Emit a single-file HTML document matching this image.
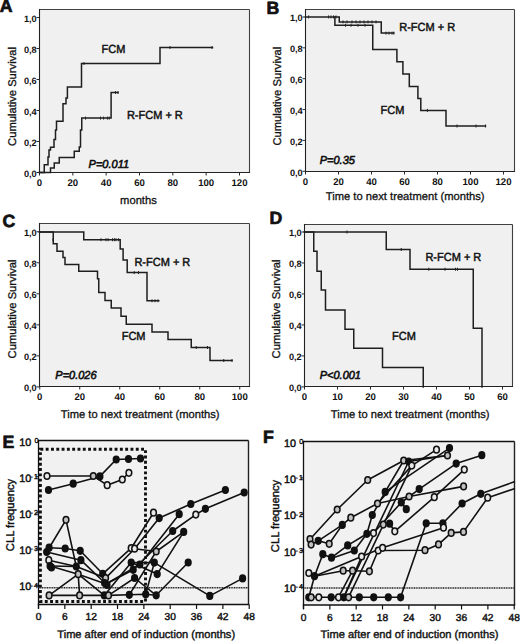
<!DOCTYPE html><html><head><meta charset="utf-8"><style>html,body{margin:0;padding:0;background:#fff;}body{width:520px;height:641px;overflow:hidden;}svg{display:block;}text{font-family:"Liberation Sans", sans-serif;fill:#111;text-rendering:geometricPrecision;}</style></head><body>
<svg width="520" height="641" viewBox="0 0 520 641">
<rect x="39.5" y="9.5" width="210.0" height="163.0" fill="#f0f0f0"/>
<line x1="39.50" y1="9.50" x2="249.50" y2="9.50" stroke="#404040" stroke-width="1.1" />
<line x1="249.50" y1="9.50" x2="249.50" y2="172.50" stroke="#404040" stroke-width="1.1" />
<line x1="39.50" y1="8.95" x2="39.50" y2="173.05" stroke="#222" stroke-width="1.1" />
<line x1="38.95" y1="172.50" x2="250.05" y2="172.50" stroke="#222" stroke-width="1.1" />
<line x1="36.50" y1="172.50" x2="39.50" y2="172.50" stroke="#2a2a2a" stroke-width="1.0" />
<text x="36.70" y="176.90" font-size="9.2" font-weight="bold" font-style="normal" text-anchor="end" >0,0</text>
<line x1="36.50" y1="141.50" x2="39.50" y2="141.50" stroke="#2a2a2a" stroke-width="1.0" />
<text x="36.70" y="145.90" font-size="9.2" font-weight="bold" font-style="normal" text-anchor="end" >0,2</text>
<line x1="36.50" y1="110.50" x2="39.50" y2="110.50" stroke="#2a2a2a" stroke-width="1.0" />
<text x="36.70" y="114.90" font-size="9.2" font-weight="bold" font-style="normal" text-anchor="end" >0,4</text>
<line x1="36.50" y1="79.50" x2="39.50" y2="79.50" stroke="#2a2a2a" stroke-width="1.0" />
<text x="36.70" y="83.90" font-size="9.2" font-weight="bold" font-style="normal" text-anchor="end" >0,6</text>
<line x1="36.50" y1="48.50" x2="39.50" y2="48.50" stroke="#2a2a2a" stroke-width="1.0" />
<text x="36.70" y="52.90" font-size="9.2" font-weight="bold" font-style="normal" text-anchor="end" >0,8</text>
<line x1="36.50" y1="17.50" x2="39.50" y2="17.50" stroke="#2a2a2a" stroke-width="1.0" />
<text x="36.70" y="21.90" font-size="9.2" font-weight="bold" font-style="normal" text-anchor="end" >1,0</text>
<line x1="39.50" y1="172.50" x2="39.50" y2="175.50" stroke="#2a2a2a" stroke-width="1.0" />
<text x="39.50" y="186.10" font-size="9.6" font-weight="bold" font-style="normal" text-anchor="middle" >0</text>
<line x1="72.83" y1="172.50" x2="72.83" y2="175.50" stroke="#2a2a2a" stroke-width="1.0" />
<text x="72.83" y="186.10" font-size="9.6" font-weight="bold" font-style="normal" text-anchor="middle" >20</text>
<line x1="106.17" y1="172.50" x2="106.17" y2="175.50" stroke="#2a2a2a" stroke-width="1.0" />
<text x="106.17" y="186.10" font-size="9.6" font-weight="bold" font-style="normal" text-anchor="middle" >40</text>
<line x1="139.50" y1="172.50" x2="139.50" y2="175.50" stroke="#2a2a2a" stroke-width="1.0" />
<text x="139.50" y="186.10" font-size="9.6" font-weight="bold" font-style="normal" text-anchor="middle" >60</text>
<line x1="172.84" y1="172.50" x2="172.84" y2="175.50" stroke="#2a2a2a" stroke-width="1.0" />
<text x="172.84" y="186.10" font-size="9.6" font-weight="bold" font-style="normal" text-anchor="middle" >80</text>
<line x1="206.17" y1="172.50" x2="206.17" y2="175.50" stroke="#2a2a2a" stroke-width="1.0" />
<text x="206.17" y="186.10" font-size="9.6" font-weight="bold" font-style="normal" text-anchor="middle" >100</text>
<line x1="239.50" y1="172.50" x2="239.50" y2="175.50" stroke="#2a2a2a" stroke-width="1.0" />
<text x="239.50" y="186.10" font-size="9.6" font-weight="bold" font-style="normal" text-anchor="middle" >120</text>
<text x="-0.30" y="12.40" font-size="17.7" font-weight="bold" font-style="normal" text-anchor="start" stroke="#111" stroke-width="0.7" >A</text>
<text x="120.10" y="203.60" font-size="11.2" font-weight="normal" font-style="normal" text-anchor="start" stroke="#111" stroke-width="0.3" >months</text>
<text x="0" y="0" font-size="11.2" text-anchor="middle" stroke="#111" stroke-width="0.3" transform="translate(15.8,96.5) rotate(-90)">Cumulative Survival</text>
<path d="M39.50,172.50 L44.25,172.50 L44.25,164.75 L48.00,164.75 L48.00,157.00 L49.00,157.00 L49.00,150.00 L50.50,150.00 L50.50,147.25 L54.00,147.25 L54.00,139.50 L55.50,139.50 L55.50,130.00 L56.50,130.00 L56.50,121.25 L63.00,121.25 L63.00,103.75 L66.00,103.75 L66.00,98.00 L67.40,98.00 L67.40,86.90 L81.50,86.90 L81.50,63.50 L160.00,63.50 L160.00,47.50 L212.50,47.50" fill="none" stroke="#1e1e1e" stroke-width="1.5" stroke-linejoin="miter" stroke-linecap="square"/>
<line x1="84.00" y1="62.00" x2="84.00" y2="65.00" stroke="#222" stroke-width="1.0" />
<line x1="170.00" y1="46.00" x2="170.00" y2="49.00" stroke="#222" stroke-width="1.0" />
<line x1="212.00" y1="46.00" x2="212.00" y2="49.00" stroke="#222" stroke-width="1.0" />
<path d="M39.50,172.50 L50.50,172.50 L50.50,168.10 L54.25,168.10 L54.25,163.10 L59.25,163.10 L59.25,157.50 L74.25,157.50 L74.25,151.25 L79.25,151.25 L79.25,147.00 L80.50,147.00 L80.50,130.00 L81.75,130.00 L81.75,118.10 L111.10,118.10 L111.10,92.50 L118.00,92.50" fill="none" stroke="#1e1e1e" stroke-width="1.5" stroke-linejoin="miter" stroke-linecap="square"/>
<line x1="85.50" y1="116.60" x2="85.50" y2="119.60" stroke="#222" stroke-width="1.0" />
<line x1="100.50" y1="116.60" x2="100.50" y2="119.60" stroke="#222" stroke-width="1.0" />
<line x1="103.60" y1="116.60" x2="103.60" y2="119.60" stroke="#222" stroke-width="1.0" />
<line x1="107.40" y1="116.60" x2="107.40" y2="119.60" stroke="#222" stroke-width="1.0" />
<line x1="109.25" y1="116.60" x2="109.25" y2="119.60" stroke="#222" stroke-width="1.0" />
<line x1="115.50" y1="91.00" x2="115.50" y2="94.00" stroke="#222" stroke-width="1.0" />
<line x1="118.00" y1="91.00" x2="118.00" y2="94.00" stroke="#222" stroke-width="1.0" />
<text transform="translate(101.60,52.80) scale(1,1.07)" font-size="11" font-weight="normal" font-style="normal" text-anchor="start" stroke="#111" stroke-width="0.45" >FCM</text>
<text transform="translate(126.90,119.10) scale(1,1.07)" font-size="11" font-weight="normal" font-style="normal" text-anchor="start" stroke="#111" stroke-width="0.45" >R-FCM + R</text>
<text transform="translate(88.60,168.20) scale(1,1.05)" font-size="11" font-weight="normal" font-style="italic" text-anchor="start" stroke="#111" stroke-width="0.6" >P=0.011</text>
<rect x="305.5" y="9.5" width="209.0" height="162.0" fill="#f0f0f0"/>
<line x1="305.50" y1="9.50" x2="514.50" y2="9.50" stroke="#404040" stroke-width="1.1" />
<line x1="514.50" y1="9.50" x2="514.50" y2="171.50" stroke="#404040" stroke-width="1.1" />
<line x1="305.50" y1="8.95" x2="305.50" y2="172.05" stroke="#222" stroke-width="1.1" />
<line x1="304.95" y1="171.50" x2="515.05" y2="171.50" stroke="#222" stroke-width="1.1" />
<line x1="302.50" y1="171.25" x2="305.50" y2="171.25" stroke="#2a2a2a" stroke-width="1.0" />
<text x="302.70" y="175.65" font-size="9.2" font-weight="bold" font-style="normal" text-anchor="end" >0,0</text>
<line x1="302.50" y1="140.40" x2="305.50" y2="140.40" stroke="#2a2a2a" stroke-width="1.0" />
<text x="302.70" y="144.80" font-size="9.2" font-weight="bold" font-style="normal" text-anchor="end" >0,2</text>
<line x1="302.50" y1="109.55" x2="305.50" y2="109.55" stroke="#2a2a2a" stroke-width="1.0" />
<text x="302.70" y="113.95" font-size="9.2" font-weight="bold" font-style="normal" text-anchor="end" >0,4</text>
<line x1="302.50" y1="78.70" x2="305.50" y2="78.70" stroke="#2a2a2a" stroke-width="1.0" />
<text x="302.70" y="83.10" font-size="9.2" font-weight="bold" font-style="normal" text-anchor="end" >0,6</text>
<line x1="302.50" y1="47.85" x2="305.50" y2="47.85" stroke="#2a2a2a" stroke-width="1.0" />
<text x="302.70" y="52.25" font-size="9.2" font-weight="bold" font-style="normal" text-anchor="end" >0,8</text>
<line x1="302.50" y1="17.00" x2="305.50" y2="17.00" stroke="#2a2a2a" stroke-width="1.0" />
<text x="302.70" y="21.40" font-size="9.2" font-weight="bold" font-style="normal" text-anchor="end" >1,0</text>
<line x1="305.50" y1="171.50" x2="305.50" y2="174.50" stroke="#2a2a2a" stroke-width="1.0" />
<text x="305.50" y="185.10" font-size="9.6" font-weight="bold" font-style="normal" text-anchor="middle" >0</text>
<line x1="338.50" y1="171.50" x2="338.50" y2="174.50" stroke="#2a2a2a" stroke-width="1.0" />
<text x="338.50" y="185.10" font-size="9.6" font-weight="bold" font-style="normal" text-anchor="middle" >20</text>
<line x1="371.50" y1="171.50" x2="371.50" y2="174.50" stroke="#2a2a2a" stroke-width="1.0" />
<text x="371.50" y="185.10" font-size="9.6" font-weight="bold" font-style="normal" text-anchor="middle" >40</text>
<line x1="404.50" y1="171.50" x2="404.50" y2="174.50" stroke="#2a2a2a" stroke-width="1.0" />
<text x="404.50" y="185.10" font-size="9.6" font-weight="bold" font-style="normal" text-anchor="middle" >60</text>
<line x1="437.50" y1="171.50" x2="437.50" y2="174.50" stroke="#2a2a2a" stroke-width="1.0" />
<text x="437.50" y="185.10" font-size="9.6" font-weight="bold" font-style="normal" text-anchor="middle" >80</text>
<line x1="470.50" y1="171.50" x2="470.50" y2="174.50" stroke="#2a2a2a" stroke-width="1.0" />
<text x="470.50" y="185.10" font-size="9.6" font-weight="bold" font-style="normal" text-anchor="middle" >100</text>
<line x1="503.50" y1="171.50" x2="503.50" y2="174.50" stroke="#2a2a2a" stroke-width="1.0" />
<text x="503.50" y="185.10" font-size="9.6" font-weight="bold" font-style="normal" text-anchor="middle" >120</text>
<text x="266.50" y="14.10" font-size="17.7" font-weight="bold" font-style="normal" text-anchor="start" stroke="#111" stroke-width="0.7" >B</text>
<text x="325.80" y="200.40" font-size="11.2" font-weight="normal" font-style="normal" text-anchor="start" stroke="#111" stroke-width="0.3" >Time to next treatment (months)</text>
<text x="0" y="0" font-size="11.2" text-anchor="middle" stroke="#111" stroke-width="0.3" transform="translate(281.3,96.2) rotate(-90)">Cumulative Survival</text>
<path d="M305.50,16.90 L339.25,16.90 L339.25,21.90 L381.25,21.90 L381.25,33.10 L393.75,33.10" fill="none" stroke="#1e1e1e" stroke-width="1.5" stroke-linejoin="miter" stroke-linecap="square"/>
<path d="M334.90,16.90 L334.90,25.25 L372.75,25.25 L372.75,49.60 L396.90,49.60 L396.90,61.80 L402.90,61.80 L402.90,73.90 L409.30,73.90 L409.30,86.40 L417.90,86.40 L417.90,98.40 L420.80,98.40 L420.80,110.40 L446.00,110.40 L446.00,126.00 L485.50,126.00" fill="none" stroke="#1e1e1e" stroke-width="1.5" stroke-linejoin="miter" stroke-linecap="square"/>
<line x1="308.60" y1="15.40" x2="308.60" y2="18.40" stroke="#222" stroke-width="1.0" />
<line x1="328.60" y1="15.40" x2="328.60" y2="18.40" stroke="#222" stroke-width="1.0" />
<line x1="331.00" y1="15.40" x2="331.00" y2="18.40" stroke="#222" stroke-width="1.0" />
<line x1="333.50" y1="15.40" x2="333.50" y2="18.40" stroke="#222" stroke-width="1.0" />
<line x1="336.00" y1="15.40" x2="336.00" y2="18.40" stroke="#222" stroke-width="1.0" />
<line x1="345.50" y1="23.75" x2="345.50" y2="26.75" stroke="#222" stroke-width="1.0" />
<line x1="351.00" y1="23.75" x2="351.00" y2="26.75" stroke="#222" stroke-width="1.0" />
<line x1="358.00" y1="23.75" x2="358.00" y2="26.75" stroke="#222" stroke-width="1.0" />
<line x1="365.00" y1="23.75" x2="365.00" y2="26.75" stroke="#222" stroke-width="1.0" />
<line x1="343.00" y1="20.40" x2="343.00" y2="23.40" stroke="#222" stroke-width="1.0" />
<line x1="347.00" y1="20.40" x2="347.00" y2="23.40" stroke="#222" stroke-width="1.0" />
<line x1="352.00" y1="20.40" x2="352.00" y2="23.40" stroke="#222" stroke-width="1.0" />
<line x1="356.00" y1="20.40" x2="356.00" y2="23.40" stroke="#222" stroke-width="1.0" />
<line x1="360.00" y1="20.40" x2="360.00" y2="23.40" stroke="#222" stroke-width="1.0" />
<line x1="364.00" y1="20.40" x2="364.00" y2="23.40" stroke="#222" stroke-width="1.0" />
<line x1="368.00" y1="20.40" x2="368.00" y2="23.40" stroke="#222" stroke-width="1.0" />
<line x1="372.00" y1="20.40" x2="372.00" y2="23.40" stroke="#222" stroke-width="1.0" />
<line x1="376.00" y1="20.40" x2="376.00" y2="23.40" stroke="#222" stroke-width="1.0" />
<line x1="386.00" y1="31.60" x2="386.00" y2="34.60" stroke="#222" stroke-width="1.0" />
<line x1="389.00" y1="31.60" x2="389.00" y2="34.60" stroke="#222" stroke-width="1.0" />
<line x1="392.00" y1="31.60" x2="392.00" y2="34.60" stroke="#222" stroke-width="1.0" />
<line x1="393.75" y1="31.60" x2="393.75" y2="34.60" stroke="#222" stroke-width="1.0" />
<line x1="427.40" y1="108.90" x2="427.40" y2="111.90" stroke="#222" stroke-width="1.0" />
<line x1="457.00" y1="124.50" x2="457.00" y2="127.50" stroke="#222" stroke-width="1.0" />
<line x1="476.00" y1="124.50" x2="476.00" y2="127.50" stroke="#222" stroke-width="1.0" />
<line x1="485.50" y1="124.50" x2="485.50" y2="127.50" stroke="#222" stroke-width="1.0" />
<text transform="translate(399.20,30.90) scale(1,1.07)" font-size="11" font-weight="normal" font-style="normal" text-anchor="start" stroke="#111" stroke-width="0.45" >R-FCM + R</text>
<text transform="translate(380.60,113.70) scale(1,1.07)" font-size="11" font-weight="normal" font-style="normal" text-anchor="start" stroke="#111" stroke-width="0.45" >FCM</text>
<text transform="translate(319.70,164.10) scale(1,1.05)" font-size="11" font-weight="normal" font-style="italic" text-anchor="start" stroke="#111" stroke-width="0.6" >P=0.35</text>
<rect x="39.5" y="223.5" width="210.0" height="163.0" fill="#f0f0f0"/>
<line x1="39.50" y1="223.50" x2="249.50" y2="223.50" stroke="#404040" stroke-width="1.1" />
<line x1="249.50" y1="223.50" x2="249.50" y2="386.50" stroke="#404040" stroke-width="1.1" />
<line x1="39.50" y1="222.95" x2="39.50" y2="387.05" stroke="#222" stroke-width="1.1" />
<line x1="38.95" y1="386.50" x2="250.05" y2="386.50" stroke="#222" stroke-width="1.1" />
<line x1="36.50" y1="386.90" x2="39.50" y2="386.90" stroke="#2a2a2a" stroke-width="1.0" />
<text x="36.70" y="391.30" font-size="9.2" font-weight="bold" font-style="normal" text-anchor="end" >0,0</text>
<line x1="36.50" y1="355.87" x2="39.50" y2="355.87" stroke="#2a2a2a" stroke-width="1.0" />
<text x="36.70" y="360.27" font-size="9.2" font-weight="bold" font-style="normal" text-anchor="end" >0,2</text>
<line x1="36.50" y1="324.84" x2="39.50" y2="324.84" stroke="#2a2a2a" stroke-width="1.0" />
<text x="36.70" y="329.24" font-size="9.2" font-weight="bold" font-style="normal" text-anchor="end" >0,4</text>
<line x1="36.50" y1="293.81" x2="39.50" y2="293.81" stroke="#2a2a2a" stroke-width="1.0" />
<text x="36.70" y="298.21" font-size="9.2" font-weight="bold" font-style="normal" text-anchor="end" >0,6</text>
<line x1="36.50" y1="262.78" x2="39.50" y2="262.78" stroke="#2a2a2a" stroke-width="1.0" />
<text x="36.70" y="267.18" font-size="9.2" font-weight="bold" font-style="normal" text-anchor="end" >0,8</text>
<line x1="36.50" y1="231.75" x2="39.50" y2="231.75" stroke="#2a2a2a" stroke-width="1.0" />
<text x="36.70" y="236.15" font-size="9.2" font-weight="bold" font-style="normal" text-anchor="end" >1,0</text>
<line x1="39.75" y1="386.50" x2="39.75" y2="389.50" stroke="#2a2a2a" stroke-width="1.0" />
<text x="39.75" y="400.10" font-size="9.6" font-weight="bold" font-style="normal" text-anchor="middle" >0</text>
<line x1="79.75" y1="386.50" x2="79.75" y2="389.50" stroke="#2a2a2a" stroke-width="1.0" />
<text x="79.75" y="400.10" font-size="9.6" font-weight="bold" font-style="normal" text-anchor="middle" >20</text>
<line x1="119.75" y1="386.50" x2="119.75" y2="389.50" stroke="#2a2a2a" stroke-width="1.0" />
<text x="119.75" y="400.10" font-size="9.6" font-weight="bold" font-style="normal" text-anchor="middle" >40</text>
<line x1="159.75" y1="386.50" x2="159.75" y2="389.50" stroke="#2a2a2a" stroke-width="1.0" />
<text x="159.75" y="400.10" font-size="9.6" font-weight="bold" font-style="normal" text-anchor="middle" >60</text>
<line x1="199.75" y1="386.50" x2="199.75" y2="389.50" stroke="#2a2a2a" stroke-width="1.0" />
<text x="199.75" y="400.10" font-size="9.6" font-weight="bold" font-style="normal" text-anchor="middle" >80</text>
<line x1="239.75" y1="386.50" x2="239.75" y2="389.50" stroke="#2a2a2a" stroke-width="1.0" />
<text x="239.75" y="400.10" font-size="9.6" font-weight="bold" font-style="normal" text-anchor="middle" >100</text>
<text x="2.40" y="227.00" font-size="17.7" font-weight="bold" font-style="normal" text-anchor="start" stroke="#111" stroke-width="0.7" >C</text>
<text x="60.80" y="417.80" font-size="11.2" font-weight="normal" font-style="normal" text-anchor="start" stroke="#111" stroke-width="0.3" >Time to next treatment (months)</text>
<text x="0" y="0" font-size="11.2" text-anchor="middle" stroke="#111" stroke-width="0.3" transform="translate(15.8,309) rotate(-90)">Cumulative Survival</text>
<path d="M39.50,232.00 L83.75,232.00 L83.75,239.70 L120.20,239.70 L120.20,249.00 L123.10,249.00 L123.10,260.00 L127.20,260.00 L127.20,272.60 L147.00,272.60 L147.00,300.75 L158.75,300.75" fill="none" stroke="#1e1e1e" stroke-width="1.5" stroke-linejoin="miter" stroke-linecap="square"/>
<line x1="53.00" y1="238.20" x2="53.00" y2="241.20" stroke="#222" stroke-width="1.0" />
<line x1="101.00" y1="238.20" x2="101.00" y2="241.20" stroke="#222" stroke-width="1.0" />
<line x1="106.00" y1="238.20" x2="106.00" y2="241.20" stroke="#222" stroke-width="1.0" />
<line x1="108.10" y1="238.20" x2="108.10" y2="241.20" stroke="#222" stroke-width="1.0" />
<line x1="112.50" y1="238.20" x2="112.50" y2="241.20" stroke="#222" stroke-width="1.0" />
<line x1="114.40" y1="238.20" x2="114.40" y2="241.20" stroke="#222" stroke-width="1.0" />
<line x1="116.00" y1="238.20" x2="116.00" y2="241.20" stroke="#222" stroke-width="1.0" />
<line x1="118.60" y1="238.20" x2="118.60" y2="241.20" stroke="#222" stroke-width="1.0" />
<line x1="134.20" y1="271.10" x2="134.20" y2="274.10" stroke="#222" stroke-width="1.0" />
<line x1="138.50" y1="271.10" x2="138.50" y2="274.10" stroke="#222" stroke-width="1.0" />
<line x1="152.00" y1="299.25" x2="152.00" y2="302.25" stroke="#222" stroke-width="1.0" />
<line x1="155.00" y1="299.25" x2="155.00" y2="302.25" stroke="#222" stroke-width="1.0" />
<line x1="158.00" y1="299.25" x2="158.00" y2="302.25" stroke="#222" stroke-width="1.0" />
<path d="M39.50,232.00 L53.25,232.00 L53.25,243.75 L57.00,243.75 L57.00,251.25 L63.00,251.25 L63.00,257.50 L65.00,257.50 L65.00,264.50 L78.75,264.50 L78.75,271.25 L97.50,271.25 L97.50,278.75 L98.75,278.75 L98.75,292.50 L105.00,292.50 L105.00,300.50 L111.25,300.50 L111.25,308.00 L121.00,308.00 L121.00,316.25 L126.25,316.25 L126.25,324.25 L152.00,324.25 L152.00,332.00 L168.00,332.00 L168.00,339.50 L191.25,339.50 L191.25,347.50 L210.00,347.50 L210.00,360.50 L232.00,360.50" fill="none" stroke="#1e1e1e" stroke-width="1.5" stroke-linejoin="miter" stroke-linecap="square"/>
<line x1="196.25" y1="346.00" x2="196.25" y2="349.00" stroke="#222" stroke-width="1.0" />
<line x1="207.50" y1="346.00" x2="207.50" y2="349.00" stroke="#222" stroke-width="1.0" />
<line x1="223.75" y1="359.00" x2="223.75" y2="362.00" stroke="#222" stroke-width="1.0" />
<line x1="232.00" y1="359.00" x2="232.00" y2="362.00" stroke="#222" stroke-width="1.0" />
<text transform="translate(134.40,265.80) scale(1,1.07)" font-size="11" font-weight="normal" font-style="normal" text-anchor="start" stroke="#111" stroke-width="0.45" >R-FCM + R</text>
<text transform="translate(121.70,339.80) scale(1,1.07)" font-size="11" font-weight="normal" font-style="normal" text-anchor="start" stroke="#111" stroke-width="0.45" >FCM</text>
<text transform="translate(55.30,378.50) scale(1,1.05)" font-size="11" font-weight="normal" font-style="italic" text-anchor="start" stroke="#111" stroke-width="0.6" >P=0.026</text>
<rect x="304.5" y="224.5" width="208.0" height="162.0" fill="#f0f0f0"/>
<line x1="304.50" y1="224.50" x2="512.50" y2="224.50" stroke="#404040" stroke-width="1.1" />
<line x1="512.50" y1="224.50" x2="512.50" y2="386.50" stroke="#404040" stroke-width="1.1" />
<line x1="304.50" y1="223.95" x2="304.50" y2="387.05" stroke="#222" stroke-width="1.1" />
<line x1="303.95" y1="386.50" x2="513.05" y2="386.50" stroke="#222" stroke-width="1.1" />
<line x1="301.50" y1="386.90" x2="304.50" y2="386.90" stroke="#2a2a2a" stroke-width="1.0" />
<text x="301.70" y="391.30" font-size="9.2" font-weight="bold" font-style="normal" text-anchor="end" >0,0</text>
<line x1="301.50" y1="355.92" x2="304.50" y2="355.92" stroke="#2a2a2a" stroke-width="1.0" />
<text x="301.70" y="360.32" font-size="9.2" font-weight="bold" font-style="normal" text-anchor="end" >0,2</text>
<line x1="301.50" y1="324.94" x2="304.50" y2="324.94" stroke="#2a2a2a" stroke-width="1.0" />
<text x="301.70" y="329.34" font-size="9.2" font-weight="bold" font-style="normal" text-anchor="end" >0,4</text>
<line x1="301.50" y1="293.96" x2="304.50" y2="293.96" stroke="#2a2a2a" stroke-width="1.0" />
<text x="301.70" y="298.36" font-size="9.2" font-weight="bold" font-style="normal" text-anchor="end" >0,6</text>
<line x1="301.50" y1="262.98" x2="304.50" y2="262.98" stroke="#2a2a2a" stroke-width="1.0" />
<text x="301.70" y="267.38" font-size="9.2" font-weight="bold" font-style="normal" text-anchor="end" >0,8</text>
<line x1="301.50" y1="232.00" x2="304.50" y2="232.00" stroke="#2a2a2a" stroke-width="1.0" />
<text x="301.70" y="236.40" font-size="9.2" font-weight="bold" font-style="normal" text-anchor="end" >1,0</text>
<line x1="304.50" y1="386.50" x2="304.50" y2="389.50" stroke="#2a2a2a" stroke-width="1.0" />
<text x="304.50" y="400.10" font-size="9.6" font-weight="bold" font-style="normal" text-anchor="middle" >0</text>
<line x1="337.50" y1="386.50" x2="337.50" y2="389.50" stroke="#2a2a2a" stroke-width="1.0" />
<text x="337.50" y="400.10" font-size="9.6" font-weight="bold" font-style="normal" text-anchor="middle" >10</text>
<line x1="370.50" y1="386.50" x2="370.50" y2="389.50" stroke="#2a2a2a" stroke-width="1.0" />
<text x="370.50" y="400.10" font-size="9.6" font-weight="bold" font-style="normal" text-anchor="middle" >20</text>
<line x1="403.50" y1="386.50" x2="403.50" y2="389.50" stroke="#2a2a2a" stroke-width="1.0" />
<text x="403.50" y="400.10" font-size="9.6" font-weight="bold" font-style="normal" text-anchor="middle" >30</text>
<line x1="436.50" y1="386.50" x2="436.50" y2="389.50" stroke="#2a2a2a" stroke-width="1.0" />
<text x="436.50" y="400.10" font-size="9.6" font-weight="bold" font-style="normal" text-anchor="middle" >40</text>
<line x1="469.50" y1="386.50" x2="469.50" y2="389.50" stroke="#2a2a2a" stroke-width="1.0" />
<text x="469.50" y="400.10" font-size="9.6" font-weight="bold" font-style="normal" text-anchor="middle" >50</text>
<line x1="502.50" y1="386.50" x2="502.50" y2="389.50" stroke="#2a2a2a" stroke-width="1.0" />
<text x="502.50" y="400.10" font-size="9.6" font-weight="bold" font-style="normal" text-anchor="middle" >60</text>
<text x="269.50" y="224.20" font-size="17.7" font-weight="bold" font-style="normal" text-anchor="start" stroke="#111" stroke-width="0.7" >D</text>
<text x="330.80" y="417.80" font-size="11.2" font-weight="normal" font-style="normal" text-anchor="start" stroke="#111" stroke-width="0.3" >Time to next treatment (months)</text>
<text x="0" y="0" font-size="11.2" text-anchor="middle" stroke="#111" stroke-width="0.3" transform="translate(280.3,309) rotate(-90)">Cumulative Survival</text>
<path d="M304.50,232.00 L386.25,232.00 L386.25,249.50 L410.00,249.50 L410.00,269.25 L473.25,269.25 L473.25,328.25 L482.00,328.25 L482.00,386.90" fill="none" stroke="#1e1e1e" stroke-width="1.5" stroke-linejoin="miter" stroke-linecap="square"/>
<line x1="347.00" y1="230.50" x2="347.00" y2="233.50" stroke="#222" stroke-width="1.0" />
<line x1="401.25" y1="248.00" x2="401.25" y2="251.00" stroke="#222" stroke-width="1.0" />
<line x1="428.75" y1="267.75" x2="428.75" y2="270.75" stroke="#222" stroke-width="1.0" />
<line x1="445.00" y1="267.75" x2="445.00" y2="270.75" stroke="#222" stroke-width="1.0" />
<line x1="455.50" y1="267.75" x2="455.50" y2="270.75" stroke="#222" stroke-width="1.0" />
<line x1="457.50" y1="267.75" x2="457.50" y2="270.75" stroke="#222" stroke-width="1.0" />
<path d="M304.50,232.00 L313.75,232.00 L313.75,251.25 L317.00,251.25 L317.00,271.25 L321.25,271.25 L321.25,290.00 L325.50,290.00 L325.50,310.00 L345.00,310.00 L345.00,329.25 L353.75,329.25 L353.75,348.25 L382.50,348.25 L382.50,367.50 L423.25,367.50 L423.25,386.90" fill="none" stroke="#1e1e1e" stroke-width="1.5" stroke-linejoin="miter" stroke-linecap="square"/>
<text transform="translate(425.40,260.50) scale(1,1.07)" font-size="11" font-weight="normal" font-style="normal" text-anchor="start" stroke="#111" stroke-width="0.45" >R-FCM + R</text>
<text transform="translate(392.10,339.60) scale(1,1.07)" font-size="11" font-weight="normal" font-style="normal" text-anchor="start" stroke="#111" stroke-width="0.45" >FCM</text>
<text transform="translate(319.70,379.30) scale(1,1.05)" font-size="11" font-weight="normal" font-style="italic" text-anchor="start" stroke="#111" stroke-width="0.6" >P&lt;0.001</text>
<rect x="38.5" y="440.5" width="210.0" height="164.0" fill="#f1f1f1"/>
<line x1="38.50" y1="440.50" x2="248.50" y2="440.50" stroke="#111" stroke-width="1.4" />
<line x1="248.50" y1="440.50" x2="248.50" y2="604.50" stroke="#222" stroke-width="1.4" />
<line x1="38.50" y1="439.80" x2="38.50" y2="608.50" stroke="#111" stroke-width="1.3" />
<line x1="37.80" y1="604.50" x2="249.20" y2="604.50" stroke="#111" stroke-width="1.5" />
<line x1="38.50" y1="587.70" x2="248.50" y2="587.70" stroke="#222" stroke-width="1.5" stroke-dasharray="1.1,0.6"/>
<text x="19.20" y="446.30" font-size="10.8" font-weight="normal" font-style="normal" text-anchor="start" stroke="#111" stroke-width="0.45" >10</text>
<text x="34.40" y="442.90" font-size="7.2" font-weight="normal" font-style="normal" text-anchor="start" stroke="#111" stroke-width="0.35" >0</text>
<line x1="35.50" y1="476.70" x2="38.50" y2="476.70" stroke="#111" stroke-width="1.0" />
<text x="19.20" y="481.80" font-size="10.8" font-weight="normal" font-style="normal" text-anchor="start" stroke="#111" stroke-width="0.45" >10</text>
<text x="30.50" y="478.90" font-size="7.2" font-weight="normal" font-style="normal" text-anchor="start" stroke="#111" stroke-width="0.35" >-</text>
<text x="34.10" y="478.90" font-size="7.2" font-weight="normal" font-style="normal" text-anchor="start" stroke="#111" stroke-width="0.35" >1</text>
<line x1="35.50" y1="512.90" x2="38.50" y2="512.90" stroke="#111" stroke-width="1.0" />
<text x="19.20" y="518.00" font-size="10.8" font-weight="normal" font-style="normal" text-anchor="start" stroke="#111" stroke-width="0.45" >10</text>
<text x="30.50" y="515.10" font-size="7.2" font-weight="normal" font-style="normal" text-anchor="start" stroke="#111" stroke-width="0.35" >-</text>
<text x="34.10" y="515.10" font-size="7.2" font-weight="normal" font-style="normal" text-anchor="start" stroke="#111" stroke-width="0.35" >2</text>
<line x1="35.50" y1="549.10" x2="38.50" y2="549.10" stroke="#111" stroke-width="1.0" />
<text x="19.20" y="554.20" font-size="10.8" font-weight="normal" font-style="normal" text-anchor="start" stroke="#111" stroke-width="0.45" >10</text>
<text x="30.50" y="551.30" font-size="7.2" font-weight="normal" font-style="normal" text-anchor="start" stroke="#111" stroke-width="0.35" >-</text>
<text x="34.10" y="551.30" font-size="7.2" font-weight="normal" font-style="normal" text-anchor="start" stroke="#111" stroke-width="0.35" >3</text>
<line x1="35.50" y1="585.30" x2="38.50" y2="585.30" stroke="#111" stroke-width="1.0" />
<text x="19.20" y="590.40" font-size="10.8" font-weight="normal" font-style="normal" text-anchor="start" stroke="#111" stroke-width="0.45" >10</text>
<text x="30.50" y="587.50" font-size="7.2" font-weight="normal" font-style="normal" text-anchor="start" stroke="#111" stroke-width="0.35" >-</text>
<text x="34.10" y="587.50" font-size="7.2" font-weight="normal" font-style="normal" text-anchor="start" stroke="#111" stroke-width="0.35" >4</text>
<line x1="38.50" y1="604.50" x2="38.50" y2="609.00" stroke="#111" stroke-width="1.2" />
<text x="38.50" y="620.30" font-size="10.2" font-weight="normal" font-style="normal" text-anchor="middle" stroke="#111" stroke-width="0.45" >0</text>
<line x1="64.84" y1="604.50" x2="64.84" y2="609.00" stroke="#111" stroke-width="1.2" />
<text x="64.84" y="620.30" font-size="10.2" font-weight="normal" font-style="normal" text-anchor="middle" stroke="#111" stroke-width="0.45" >6</text>
<line x1="91.18" y1="604.50" x2="91.18" y2="609.00" stroke="#111" stroke-width="1.2" />
<text x="91.18" y="620.30" font-size="10.2" font-weight="normal" font-style="normal" text-anchor="middle" stroke="#111" stroke-width="0.45" >12</text>
<line x1="117.52" y1="604.50" x2="117.52" y2="609.00" stroke="#111" stroke-width="1.2" />
<text x="117.52" y="620.30" font-size="10.2" font-weight="normal" font-style="normal" text-anchor="middle" stroke="#111" stroke-width="0.45" >18</text>
<line x1="143.86" y1="604.50" x2="143.86" y2="609.00" stroke="#111" stroke-width="1.2" />
<text x="143.86" y="620.30" font-size="10.2" font-weight="normal" font-style="normal" text-anchor="middle" stroke="#111" stroke-width="0.45" >24</text>
<line x1="170.20" y1="604.50" x2="170.20" y2="609.00" stroke="#111" stroke-width="1.2" />
<text x="170.20" y="620.30" font-size="10.2" font-weight="normal" font-style="normal" text-anchor="middle" stroke="#111" stroke-width="0.45" >30</text>
<line x1="196.54" y1="604.50" x2="196.54" y2="609.00" stroke="#111" stroke-width="1.2" />
<text x="196.54" y="620.30" font-size="10.2" font-weight="normal" font-style="normal" text-anchor="middle" stroke="#111" stroke-width="0.45" >36</text>
<line x1="222.88" y1="604.50" x2="222.88" y2="609.00" stroke="#111" stroke-width="1.2" />
<text x="222.88" y="620.30" font-size="10.2" font-weight="normal" font-style="normal" text-anchor="middle" stroke="#111" stroke-width="0.45" >42</text>
<line x1="249.22" y1="604.50" x2="249.22" y2="609.00" stroke="#111" stroke-width="1.2" />
<text x="249.22" y="620.30" font-size="10.2" font-weight="normal" font-style="normal" text-anchor="middle" stroke="#111" stroke-width="0.45" >48</text>
<text x="2.50" y="447.70" font-size="17.7" font-weight="bold" font-style="normal" text-anchor="start" stroke="#111" stroke-width="0.7" >E</text>
<text x="57.30" y="637.60" font-size="11.1" font-weight="normal" font-style="normal" text-anchor="start" stroke="#111" stroke-width="0.4" >Time after end of induction (months)</text>
<text x="0" y="0" font-size="11.2" text-anchor="middle" stroke="#111" stroke-width="0.4" transform="translate(13.7,515.0) rotate(-90)">CLL frequency</text>
<rect x="40.4" y="449.3" width="105.1" height="152.2" fill="none" stroke="#111" stroke-width="2.9" stroke-dasharray="2.9,2.4"/>
<path d="M47.0,476.0 L93.3,476.0 L107.2,485.2 L122.3,479.5 L128.9,472.8" fill="none" stroke="#111" stroke-width="1.6" stroke-linejoin="round"/>
<path d="M48.5,490.0 L73.2,483.7 L99.9,476.4 L116.2,459.5 L128.5,459.0 L140.5,458.5" fill="none" stroke="#111" stroke-width="1.6" stroke-linejoin="round"/>
<path d="M46.7,552.0 L66.0,519.8 L76.3,566.5" fill="none" stroke="#111" stroke-width="1.6" stroke-linejoin="round"/>
<path d="M49.1,547.7 L65.2,548.5 L80.2,550.8 L102.7,573.8 L131.2,548.2 L153.5,512.7" fill="none" stroke="#111" stroke-width="1.6" stroke-linejoin="round"/>
<path d="M46.7,552.0 L80.9,560.2 L106.0,584.0 L133.2,569.8 L172.7,531.0 L195.8,514.6 L205.4,508.8 L244.2,492.5" fill="none" stroke="#111" stroke-width="1.6" stroke-linejoin="round"/>
<path d="M48.8,560.2 L76.3,566.5 L105.6,578.1 L134.6,548.7 L159.2,518.1 L190.8,504.0 L225.4,490.0" fill="none" stroke="#111" stroke-width="1.6" stroke-linejoin="round"/>
<path d="M50.1,566.0 L78.2,574.2 L79.6,595.4" fill="none" stroke="#111" stroke-width="1.6" stroke-linejoin="round"/>
<path d="M50.1,566.0 L76.3,566.5" fill="none" stroke="#111" stroke-width="1.6" stroke-linejoin="round"/>
<path d="M49.1,595.4 L79.6,595.4 L108.5,595.4 L129.3,594.8 L145.7,594.3 L156.2,595.3" fill="none" stroke="#111" stroke-width="1.6" stroke-linejoin="round"/>
<path d="M49.1,595.4 L78.2,574.2 L104.3,595.4" fill="none" stroke="#111" stroke-width="1.6" stroke-linejoin="round"/>
<path d="M78.2,574.2 L106.0,584.0" fill="none" stroke="#111" stroke-width="1.6" stroke-linejoin="round"/>
<path d="M104.3,595.4 L131.2,562.6 L157.2,574.1 L183.7,531.9" fill="none" stroke="#111" stroke-width="1.6" stroke-linejoin="round"/>
<path d="M108.5,595.4 L134.6,578.0 L156.2,595.3 L188.2,562.5" fill="none" stroke="#111" stroke-width="1.6" stroke-linejoin="round"/>
<path d="M106.0,584.0 L139.9,564.5 L179.2,514.2" fill="none" stroke="#111" stroke-width="1.6" stroke-linejoin="round"/>
<path d="M129.3,594.8 L156.2,551.5" fill="none" stroke="#111" stroke-width="1.6" stroke-linejoin="round"/>
<path d="M145.7,594.3 L154.3,562.6 L209.8,595.9 L242.6,578.4" fill="none" stroke="#111" stroke-width="1.6" stroke-linejoin="round"/>
<path d="M102.7,573.8 L106.0,584.0" fill="none" stroke="#111" stroke-width="1.6" stroke-linejoin="round"/>
<path d="M131.2,562.6 L154.3,562.6" fill="none" stroke="#111" stroke-width="1.6" stroke-linejoin="round"/>
<path d="M134.6,548.7 L156.2,551.5 L183.7,531.9" fill="none" stroke="#111" stroke-width="1.6" stroke-linejoin="round"/>
<ellipse cx="47.0" cy="476.0" rx="2.85" ry="3.35" fill="#e9e9e9" stroke="#111" stroke-width="1.5"/>
<ellipse cx="93.3" cy="476.0" rx="2.85" ry="3.35" fill="#c2c2c2" stroke="#111" stroke-width="1.5"/>
<ellipse cx="107.2" cy="485.2" rx="2.85" ry="3.35" fill="#e9e9e9" stroke="#111" stroke-width="1.5"/>
<ellipse cx="122.3" cy="479.5" rx="2.85" ry="3.35" fill="#e9e9e9" stroke="#111" stroke-width="1.5"/>
<ellipse cx="128.9" cy="472.8" rx="2.85" ry="3.35" fill="#e9e9e9" stroke="#111" stroke-width="1.5"/>
<ellipse cx="48.5" cy="490.0" rx="2.85" ry="3.35" fill="#111" stroke="#111" stroke-width="1.5"/>
<ellipse cx="73.2" cy="483.7" rx="2.85" ry="3.35" fill="#111" stroke="#111" stroke-width="1.5"/>
<ellipse cx="99.9" cy="476.4" rx="2.85" ry="3.35" fill="#111" stroke="#111" stroke-width="1.5"/>
<ellipse cx="116.2" cy="459.5" rx="2.85" ry="3.35" fill="#111" stroke="#111" stroke-width="1.5"/>
<ellipse cx="128.5" cy="459.0" rx="2.85" ry="3.35" fill="#111" stroke="#111" stroke-width="1.5"/>
<ellipse cx="140.5" cy="458.5" rx="2.85" ry="3.35" fill="#111" stroke="#111" stroke-width="1.5"/>
<ellipse cx="66.0" cy="519.8" rx="2.85" ry="3.35" fill="#c2c2c2" stroke="#111" stroke-width="1.5"/>
<ellipse cx="49.1" cy="547.7" rx="2.85" ry="3.35" fill="#111" stroke="#111" stroke-width="1.5"/>
<ellipse cx="46.7" cy="552.0" rx="2.85" ry="3.35" fill="#111" stroke="#111" stroke-width="1.5"/>
<ellipse cx="65.2" cy="548.5" rx="2.85" ry="3.35" fill="#111" stroke="#111" stroke-width="1.5"/>
<ellipse cx="80.2" cy="550.8" rx="2.85" ry="3.35" fill="#111" stroke="#111" stroke-width="1.5"/>
<ellipse cx="80.9" cy="560.2" rx="2.85" ry="3.35" fill="#111" stroke="#111" stroke-width="1.5"/>
<ellipse cx="48.8" cy="560.2" rx="2.85" ry="3.35" fill="#e9e9e9" stroke="#111" stroke-width="1.5"/>
<ellipse cx="50.1" cy="566.0" rx="2.85" ry="3.35" fill="#111" stroke="#111" stroke-width="1.5"/>
<ellipse cx="51.5" cy="567.5" rx="2.85" ry="3.35" fill="#111" stroke="#111" stroke-width="1.5"/>
<ellipse cx="76.3" cy="566.5" rx="2.85" ry="3.35" fill="#111" stroke="#111" stroke-width="1.5"/>
<ellipse cx="78.2" cy="574.2" rx="2.85" ry="3.35" fill="#c2c2c2" stroke="#111" stroke-width="1.5"/>
<ellipse cx="102.7" cy="573.8" rx="2.85" ry="3.35" fill="#111" stroke="#111" stroke-width="1.5"/>
<ellipse cx="105.6" cy="578.1" rx="2.85" ry="3.35" fill="#c2c2c2" stroke="#111" stroke-width="1.5"/>
<ellipse cx="104.6" cy="583.0" rx="2.85" ry="3.35" fill="#111" stroke="#111" stroke-width="1.5"/>
<ellipse cx="107.0" cy="585.0" rx="2.85" ry="3.35" fill="#111" stroke="#111" stroke-width="1.5"/>
<ellipse cx="49.1" cy="595.4" rx="2.85" ry="3.35" fill="#c2c2c2" stroke="#111" stroke-width="1.5"/>
<ellipse cx="79.6" cy="595.4" rx="2.85" ry="3.35" fill="#c2c2c2" stroke="#111" stroke-width="1.5"/>
<ellipse cx="104.3" cy="595.4" rx="2.85" ry="3.35" fill="#111" stroke="#111" stroke-width="1.5"/>
<ellipse cx="108.5" cy="595.4" rx="2.85" ry="3.35" fill="#c2c2c2" stroke="#111" stroke-width="1.5"/>
<ellipse cx="129.3" cy="594.8" rx="2.85" ry="3.35" fill="#111" stroke="#111" stroke-width="1.5"/>
<ellipse cx="145.7" cy="594.3" rx="2.85" ry="3.35" fill="#111" stroke="#111" stroke-width="1.5"/>
<ellipse cx="156.2" cy="595.3" rx="2.85" ry="3.35" fill="#111" stroke="#111" stroke-width="1.5"/>
<ellipse cx="131.2" cy="548.2" rx="2.85" ry="3.35" fill="#e9e9e9" stroke="#111" stroke-width="1.5"/>
<ellipse cx="134.6" cy="548.7" rx="2.85" ry="3.35" fill="#e9e9e9" stroke="#111" stroke-width="1.5"/>
<ellipse cx="131.2" cy="562.6" rx="2.85" ry="3.35" fill="#111" stroke="#111" stroke-width="1.5"/>
<ellipse cx="139.9" cy="564.5" rx="2.85" ry="3.35" fill="#111" stroke="#111" stroke-width="1.5"/>
<ellipse cx="133.2" cy="569.8" rx="2.85" ry="3.35" fill="#111" stroke="#111" stroke-width="1.5"/>
<ellipse cx="134.6" cy="578.0" rx="2.85" ry="3.35" fill="#111" stroke="#111" stroke-width="1.5"/>
<ellipse cx="156.2" cy="551.5" rx="2.85" ry="3.35" fill="#c2c2c2" stroke="#111" stroke-width="1.5"/>
<ellipse cx="154.3" cy="562.6" rx="2.85" ry="3.35" fill="#111" stroke="#111" stroke-width="1.5"/>
<ellipse cx="157.2" cy="574.1" rx="2.85" ry="3.35" fill="#111" stroke="#111" stroke-width="1.5"/>
<ellipse cx="153.5" cy="512.7" rx="2.85" ry="3.35" fill="#e9e9e9" stroke="#111" stroke-width="1.5"/>
<ellipse cx="159.2" cy="518.1" rx="2.85" ry="3.35" fill="#111" stroke="#111" stroke-width="1.5"/>
<ellipse cx="172.7" cy="531.0" rx="2.85" ry="3.35" fill="#111" stroke="#111" stroke-width="1.5"/>
<ellipse cx="183.7" cy="531.9" rx="2.85" ry="3.35" fill="#111" stroke="#111" stroke-width="1.5"/>
<ellipse cx="179.2" cy="514.2" rx="2.85" ry="3.35" fill="#111" stroke="#111" stroke-width="1.5"/>
<ellipse cx="190.8" cy="504.0" rx="2.85" ry="3.35" fill="#111" stroke="#111" stroke-width="1.5"/>
<ellipse cx="195.8" cy="514.6" rx="2.85" ry="3.35" fill="#e9e9e9" stroke="#111" stroke-width="1.5"/>
<ellipse cx="205.4" cy="508.8" rx="2.85" ry="3.35" fill="#111" stroke="#111" stroke-width="1.5"/>
<ellipse cx="225.4" cy="490.0" rx="2.85" ry="3.35" fill="#111" stroke="#111" stroke-width="1.5"/>
<ellipse cx="244.2" cy="492.5" rx="2.85" ry="3.35" fill="#111" stroke="#111" stroke-width="1.5"/>
<ellipse cx="188.2" cy="562.5" rx="2.85" ry="3.35" fill="#111" stroke="#111" stroke-width="1.5"/>
<ellipse cx="209.8" cy="595.9" rx="2.85" ry="3.35" fill="#111" stroke="#111" stroke-width="1.5"/>
<ellipse cx="242.6" cy="578.4" rx="2.85" ry="3.35" fill="#111" stroke="#111" stroke-width="1.5"/>
<rect x="303.5" y="441.5" width="211.0" height="163.5" fill="#f1f1f1"/>
<line x1="303.50" y1="441.50" x2="514.50" y2="441.50" stroke="#111" stroke-width="1.4" />
<line x1="514.50" y1="441.50" x2="514.50" y2="605.00" stroke="#222" stroke-width="1.4" />
<line x1="303.50" y1="440.80" x2="303.50" y2="609.00" stroke="#111" stroke-width="1.3" />
<line x1="302.80" y1="605.00" x2="515.20" y2="605.00" stroke="#111" stroke-width="1.5" />
<line x1="303.50" y1="588.00" x2="514.50" y2="588.00" stroke="#222" stroke-width="1.5" stroke-dasharray="1.1,0.6"/>
<text x="284.10" y="447.30" font-size="10.8" font-weight="normal" font-style="normal" text-anchor="start" stroke="#111" stroke-width="0.45" >10</text>
<text x="299.30" y="443.90" font-size="7.2" font-weight="normal" font-style="normal" text-anchor="start" stroke="#111" stroke-width="0.35" >0</text>
<line x1="300.50" y1="477.90" x2="303.50" y2="477.90" stroke="#111" stroke-width="1.0" />
<text x="284.10" y="483.00" font-size="10.8" font-weight="normal" font-style="normal" text-anchor="start" stroke="#111" stroke-width="0.45" >10</text>
<text x="295.40" y="480.10" font-size="7.2" font-weight="normal" font-style="normal" text-anchor="start" stroke="#111" stroke-width="0.35" >-</text>
<text x="299.00" y="480.10" font-size="7.2" font-weight="normal" font-style="normal" text-anchor="start" stroke="#111" stroke-width="0.35" >1</text>
<line x1="300.50" y1="514.30" x2="303.50" y2="514.30" stroke="#111" stroke-width="1.0" />
<text x="284.10" y="519.40" font-size="10.8" font-weight="normal" font-style="normal" text-anchor="start" stroke="#111" stroke-width="0.45" >10</text>
<text x="295.40" y="516.50" font-size="7.2" font-weight="normal" font-style="normal" text-anchor="start" stroke="#111" stroke-width="0.35" >-</text>
<text x="299.00" y="516.50" font-size="7.2" font-weight="normal" font-style="normal" text-anchor="start" stroke="#111" stroke-width="0.35" >2</text>
<line x1="300.50" y1="550.70" x2="303.50" y2="550.70" stroke="#111" stroke-width="1.0" />
<text x="284.10" y="555.80" font-size="10.8" font-weight="normal" font-style="normal" text-anchor="start" stroke="#111" stroke-width="0.45" >10</text>
<text x="295.40" y="552.90" font-size="7.2" font-weight="normal" font-style="normal" text-anchor="start" stroke="#111" stroke-width="0.35" >-</text>
<text x="299.00" y="552.90" font-size="7.2" font-weight="normal" font-style="normal" text-anchor="start" stroke="#111" stroke-width="0.35" >3</text>
<line x1="300.50" y1="587.10" x2="303.50" y2="587.10" stroke="#111" stroke-width="1.0" />
<text x="284.10" y="592.20" font-size="10.8" font-weight="normal" font-style="normal" text-anchor="start" stroke="#111" stroke-width="0.45" >10</text>
<text x="295.40" y="589.30" font-size="7.2" font-weight="normal" font-style="normal" text-anchor="start" stroke="#111" stroke-width="0.35" >-</text>
<text x="299.00" y="589.30" font-size="7.2" font-weight="normal" font-style="normal" text-anchor="start" stroke="#111" stroke-width="0.35" >4</text>
<line x1="303.50" y1="605.00" x2="303.50" y2="609.50" stroke="#111" stroke-width="1.2" />
<text x="303.50" y="620.80" font-size="10.2" font-weight="normal" font-style="normal" text-anchor="middle" stroke="#111" stroke-width="0.45" >0</text>
<line x1="329.84" y1="605.00" x2="329.84" y2="609.50" stroke="#111" stroke-width="1.2" />
<text x="329.84" y="620.80" font-size="10.2" font-weight="normal" font-style="normal" text-anchor="middle" stroke="#111" stroke-width="0.45" >6</text>
<line x1="356.18" y1="605.00" x2="356.18" y2="609.50" stroke="#111" stroke-width="1.2" />
<text x="356.18" y="620.80" font-size="10.2" font-weight="normal" font-style="normal" text-anchor="middle" stroke="#111" stroke-width="0.45" >12</text>
<line x1="382.52" y1="605.00" x2="382.52" y2="609.50" stroke="#111" stroke-width="1.2" />
<text x="382.52" y="620.80" font-size="10.2" font-weight="normal" font-style="normal" text-anchor="middle" stroke="#111" stroke-width="0.45" >18</text>
<line x1="408.86" y1="605.00" x2="408.86" y2="609.50" stroke="#111" stroke-width="1.2" />
<text x="408.86" y="620.80" font-size="10.2" font-weight="normal" font-style="normal" text-anchor="middle" stroke="#111" stroke-width="0.45" >24</text>
<line x1="435.20" y1="605.00" x2="435.20" y2="609.50" stroke="#111" stroke-width="1.2" />
<text x="435.20" y="620.80" font-size="10.2" font-weight="normal" font-style="normal" text-anchor="middle" stroke="#111" stroke-width="0.45" >30</text>
<line x1="461.54" y1="605.00" x2="461.54" y2="609.50" stroke="#111" stroke-width="1.2" />
<text x="461.54" y="620.80" font-size="10.2" font-weight="normal" font-style="normal" text-anchor="middle" stroke="#111" stroke-width="0.45" >36</text>
<line x1="487.88" y1="605.00" x2="487.88" y2="609.50" stroke="#111" stroke-width="1.2" />
<text x="487.88" y="620.80" font-size="10.2" font-weight="normal" font-style="normal" text-anchor="middle" stroke="#111" stroke-width="0.45" >42</text>
<line x1="514.22" y1="605.00" x2="514.22" y2="609.50" stroke="#111" stroke-width="1.2" />
<text x="514.22" y="620.80" font-size="10.2" font-weight="normal" font-style="normal" text-anchor="middle" stroke="#111" stroke-width="0.45" >48</text>
<text x="262.90" y="442.70" font-size="17.7" font-weight="bold" font-style="normal" text-anchor="start" stroke="#111" stroke-width="0.7" >F</text>
<text x="320.60" y="638.10" font-size="11.1" font-weight="normal" font-style="normal" text-anchor="start" stroke="#111" stroke-width="0.4" >Time after end of induction (months)</text>
<text x="0" y="0" font-size="11.2" text-anchor="middle" stroke="#111" stroke-width="0.4" transform="translate(278.7,516.0) rotate(-90)">CLL frequency</text>
<path d="M310.0,539.2 L337.2,509.5 L367.7,480.0 L403.7,460.5 L447.5,455.5" fill="none" stroke="#111" stroke-width="1.6" stroke-linejoin="round"/>
<path d="M311.1,544.6 L318.2,540.8 L342.3,524.9 L350.8,517.7 L377.5,503.5 L409.1,496.5 L463.6,486.4" fill="none" stroke="#111" stroke-width="1.6" stroke-linejoin="round"/>
<path d="M318.2,540.8 L329.2,543.8 L342.3,524.9" fill="none" stroke="#111" stroke-width="1.6" stroke-linejoin="round"/>
<path d="M322.8,554.2 L331.5,557.7 L347.7,545.4 L366.9,533.8 L373.5,533.1" fill="none" stroke="#111" stroke-width="1.6" stroke-linejoin="round"/>
<path d="M308.8,573.0 L314.5,576.2 L343.2,570.7 L352.6,570.7 L369.4,571.3 L378.2,550.5 L425.0,550.2 L438.5,544.4 L451.2,532.9 L463.5,531.9 L487.7,497.7 L515.0,488.5" fill="none" stroke="#111" stroke-width="1.6" stroke-linejoin="round"/>
<path d="M308.8,597.3 L400.6,597.3 L426.2,523.3 L442.9,523.3 L462.1,503.5 L480.8,493.8 L515.0,481.5" fill="none" stroke="#111" stroke-width="1.6" stroke-linejoin="round"/>
<path d="M314.5,576.2 L308.8,597.3" fill="none" stroke="#111" stroke-width="1.6" stroke-linejoin="round"/>
<path d="M314.5,576.2 L361.6,556.5 L382.6,547.8 L443.5,527.7" fill="none" stroke="#111" stroke-width="1.6" stroke-linejoin="round"/>
<path d="M366.9,533.8 L372.3,515.0 L385.2,491.9 L449.5,448.1" fill="none" stroke="#111" stroke-width="1.6" stroke-linejoin="round"/>
<path d="M385.2,491.9 L403.7,460.5" fill="none" stroke="#111" stroke-width="1.6" stroke-linejoin="round"/>
<path d="M377.5,503.5 L411.8,465.6 L436.5,449.7" fill="none" stroke="#111" stroke-width="1.6" stroke-linejoin="round"/>
<path d="M338.5,597.2 L352.6,570.7" fill="none" stroke="#111" stroke-width="1.6" stroke-linejoin="round"/>
<path d="M343.8,597.2 L361.6,556.5" fill="none" stroke="#111" stroke-width="1.6" stroke-linejoin="round"/>
<path d="M343.8,597.2 L408.7,461.5" fill="none" stroke="#111" stroke-width="1.6" stroke-linejoin="round"/>
<path d="M348.6,597.2 L411.8,465.6" fill="none" stroke="#111" stroke-width="1.6" stroke-linejoin="round"/>
<path d="M373.7,532.7 L401.3,502.5 L419.2,489.1 L456.2,463.6 L481.8,455.2" fill="none" stroke="#111" stroke-width="1.6" stroke-linejoin="round"/>
<path d="M394.8,531.3 L434.3,497.2 L464.3,469.6" fill="none" stroke="#111" stroke-width="1.6" stroke-linejoin="round"/>
<path d="M389.6,523.7 L394.8,531.3" fill="none" stroke="#111" stroke-width="1.6" stroke-linejoin="round"/>
<path d="M406.3,509.2 L401.3,502.5" fill="none" stroke="#111" stroke-width="1.6" stroke-linejoin="round"/>
<path d="M408.7,461.5 L447.5,455.5" fill="none" stroke="#111" stroke-width="1.6" stroke-linejoin="round"/>
<path d="M331.1,558.6 L354.3,550.5" fill="none" stroke="#111" stroke-width="1.6" stroke-linejoin="round"/>
<path d="M354.3,550.5 L366.9,533.8" fill="none" stroke="#111" stroke-width="1.6" stroke-linejoin="round"/>
<path d="M322.8,554.2 L314.5,576.2" fill="none" stroke="#111" stroke-width="1.6" stroke-linejoin="round"/>
<ellipse cx="310.0" cy="539.2" rx="2.85" ry="3.35" fill="#c2c2c2" stroke="#111" stroke-width="1.5"/>
<ellipse cx="311.1" cy="544.6" rx="2.85" ry="3.35" fill="#c2c2c2" stroke="#111" stroke-width="1.5"/>
<ellipse cx="318.2" cy="540.8" rx="2.85" ry="3.35" fill="#111" stroke="#111" stroke-width="1.5"/>
<ellipse cx="329.2" cy="543.8" rx="2.85" ry="3.35" fill="#c2c2c2" stroke="#111" stroke-width="1.5"/>
<ellipse cx="337.2" cy="509.5" rx="2.85" ry="3.35" fill="#c2c2c2" stroke="#111" stroke-width="1.5"/>
<ellipse cx="342.3" cy="524.9" rx="2.85" ry="3.35" fill="#111" stroke="#111" stroke-width="1.5"/>
<ellipse cx="350.8" cy="517.7" rx="2.85" ry="3.35" fill="#c2c2c2" stroke="#111" stroke-width="1.5"/>
<ellipse cx="322.8" cy="554.2" rx="2.85" ry="3.35" fill="#111" stroke="#111" stroke-width="1.5"/>
<ellipse cx="331.5" cy="557.7" rx="2.85" ry="3.35" fill="#111" stroke="#111" stroke-width="1.5"/>
<ellipse cx="347.7" cy="545.4" rx="2.85" ry="3.35" fill="#111" stroke="#111" stroke-width="1.5"/>
<ellipse cx="354.3" cy="550.5" rx="2.85" ry="3.35" fill="#111" stroke="#111" stroke-width="1.5"/>
<ellipse cx="366.9" cy="533.8" rx="2.85" ry="3.35" fill="#111" stroke="#111" stroke-width="1.5"/>
<ellipse cx="373.5" cy="533.1" rx="2.85" ry="3.35" fill="#e9e9e9" stroke="#111" stroke-width="1.5"/>
<ellipse cx="372.3" cy="515.0" rx="2.85" ry="3.35" fill="#111" stroke="#111" stroke-width="1.5"/>
<ellipse cx="377.5" cy="503.5" rx="2.85" ry="3.35" fill="#c2c2c2" stroke="#111" stroke-width="1.5"/>
<ellipse cx="367.7" cy="480.0" rx="2.85" ry="3.35" fill="#c2c2c2" stroke="#111" stroke-width="1.5"/>
<ellipse cx="403.7" cy="460.5" rx="2.85" ry="3.35" fill="#c2c2c2" stroke="#111" stroke-width="1.5"/>
<ellipse cx="408.7" cy="461.5" rx="2.85" ry="3.35" fill="#111" stroke="#111" stroke-width="1.5"/>
<ellipse cx="411.8" cy="465.6" rx="2.85" ry="3.35" fill="#e9e9e9" stroke="#111" stroke-width="1.5"/>
<ellipse cx="436.5" cy="449.7" rx="2.85" ry="3.35" fill="#e9e9e9" stroke="#111" stroke-width="1.5"/>
<ellipse cx="449.5" cy="448.1" rx="2.85" ry="3.35" fill="#111" stroke="#111" stroke-width="1.5"/>
<ellipse cx="447.5" cy="455.5" rx="2.85" ry="3.35" fill="#c2c2c2" stroke="#111" stroke-width="1.5"/>
<ellipse cx="456.2" cy="463.6" rx="2.85" ry="3.35" fill="#111" stroke="#111" stroke-width="1.5"/>
<ellipse cx="481.8" cy="455.2" rx="2.85" ry="3.35" fill="#111" stroke="#111" stroke-width="1.5"/>
<ellipse cx="464.3" cy="469.6" rx="2.85" ry="3.35" fill="#e9e9e9" stroke="#111" stroke-width="1.5"/>
<ellipse cx="385.2" cy="491.9" rx="2.85" ry="3.35" fill="#111" stroke="#111" stroke-width="1.5"/>
<ellipse cx="419.2" cy="489.1" rx="2.85" ry="3.35" fill="#111" stroke="#111" stroke-width="1.5"/>
<ellipse cx="409.1" cy="496.5" rx="2.85" ry="3.35" fill="#c2c2c2" stroke="#111" stroke-width="1.5"/>
<ellipse cx="434.3" cy="497.2" rx="2.85" ry="3.35" fill="#e9e9e9" stroke="#111" stroke-width="1.5"/>
<ellipse cx="463.6" cy="486.4" rx="2.85" ry="3.35" fill="#c2c2c2" stroke="#111" stroke-width="1.5"/>
<ellipse cx="401.3" cy="502.5" rx="2.85" ry="3.35" fill="#111" stroke="#111" stroke-width="1.5"/>
<ellipse cx="406.3" cy="509.2" rx="2.85" ry="3.35" fill="#111" stroke="#111" stroke-width="1.5"/>
<ellipse cx="480.8" cy="493.8" rx="2.85" ry="3.35" fill="#111" stroke="#111" stroke-width="1.5"/>
<ellipse cx="487.7" cy="497.7" rx="2.85" ry="3.35" fill="#e9e9e9" stroke="#111" stroke-width="1.5"/>
<ellipse cx="462.1" cy="503.5" rx="2.85" ry="3.35" fill="#111" stroke="#111" stroke-width="1.5"/>
<ellipse cx="426.2" cy="523.3" rx="2.85" ry="3.35" fill="#111" stroke="#111" stroke-width="1.5"/>
<ellipse cx="442.9" cy="523.3" rx="2.85" ry="3.35" fill="#111" stroke="#111" stroke-width="1.5"/>
<ellipse cx="443.5" cy="527.7" rx="2.85" ry="3.35" fill="#e9e9e9" stroke="#111" stroke-width="1.5"/>
<ellipse cx="451.2" cy="532.9" rx="2.85" ry="3.35" fill="#c2c2c2" stroke="#111" stroke-width="1.5"/>
<ellipse cx="463.5" cy="531.9" rx="2.85" ry="3.35" fill="#c2c2c2" stroke="#111" stroke-width="1.5"/>
<ellipse cx="438.5" cy="544.4" rx="2.85" ry="3.35" fill="#c2c2c2" stroke="#111" stroke-width="1.5"/>
<ellipse cx="425.0" cy="550.2" rx="2.85" ry="3.35" fill="#c2c2c2" stroke="#111" stroke-width="1.5"/>
<ellipse cx="383.3" cy="524.6" rx="2.85" ry="3.35" fill="#c2c2c2" stroke="#111" stroke-width="1.5"/>
<ellipse cx="389.6" cy="523.7" rx="2.85" ry="3.35" fill="#111" stroke="#111" stroke-width="1.5"/>
<ellipse cx="394.8" cy="531.3" rx="2.85" ry="3.35" fill="#e9e9e9" stroke="#111" stroke-width="1.5"/>
<ellipse cx="361.6" cy="556.5" rx="2.85" ry="3.35" fill="#e9e9e9" stroke="#111" stroke-width="1.5"/>
<ellipse cx="378.2" cy="550.5" rx="2.85" ry="3.35" fill="#e9e9e9" stroke="#111" stroke-width="1.5"/>
<ellipse cx="382.6" cy="547.8" rx="2.85" ry="3.35" fill="#e9e9e9" stroke="#111" stroke-width="1.5"/>
<ellipse cx="308.8" cy="573.0" rx="2.85" ry="3.35" fill="#e9e9e9" stroke="#111" stroke-width="1.5"/>
<ellipse cx="314.5" cy="576.2" rx="2.85" ry="3.35" fill="#111" stroke="#111" stroke-width="1.5"/>
<ellipse cx="343.2" cy="570.7" rx="2.85" ry="3.35" fill="#c2c2c2" stroke="#111" stroke-width="1.5"/>
<ellipse cx="352.6" cy="570.7" rx="2.85" ry="3.35" fill="#c2c2c2" stroke="#111" stroke-width="1.5"/>
<ellipse cx="369.4" cy="571.3" rx="2.85" ry="3.35" fill="#c2c2c2" stroke="#111" stroke-width="1.5"/>
<ellipse cx="308.8" cy="597.3" rx="2.85" ry="3.35" fill="#111" stroke="#111" stroke-width="1.5"/>
<ellipse cx="311.2" cy="597.3" rx="2.85" ry="3.35" fill="#c2c2c2" stroke="#111" stroke-width="1.5"/>
<ellipse cx="318.8" cy="597.3" rx="2.85" ry="3.35" fill="#e9e9e9" stroke="#111" stroke-width="1.5"/>
<ellipse cx="331.2" cy="597.3" rx="2.85" ry="3.35" fill="#111" stroke="#111" stroke-width="1.5"/>
<ellipse cx="338.5" cy="597.3" rx="2.85" ry="3.35" fill="#e9e9e9" stroke="#111" stroke-width="1.5"/>
<ellipse cx="343.8" cy="597.3" rx="2.85" ry="3.35" fill="#111" stroke="#111" stroke-width="1.5"/>
<ellipse cx="348.6" cy="597.3" rx="2.85" ry="3.35" fill="#c2c2c2" stroke="#111" stroke-width="1.5"/>
<ellipse cx="359.3" cy="597.3" rx="2.85" ry="3.35" fill="#111" stroke="#111" stroke-width="1.5"/>
<ellipse cx="373.7" cy="597.3" rx="2.85" ry="3.35" fill="#111" stroke="#111" stroke-width="1.5"/>
<ellipse cx="388.3" cy="597.3" rx="2.85" ry="3.35" fill="#111" stroke="#111" stroke-width="1.5"/>
<ellipse cx="400.6" cy="597.3" rx="2.85" ry="3.35" fill="#111" stroke="#111" stroke-width="1.5"/>
</svg></body></html>
